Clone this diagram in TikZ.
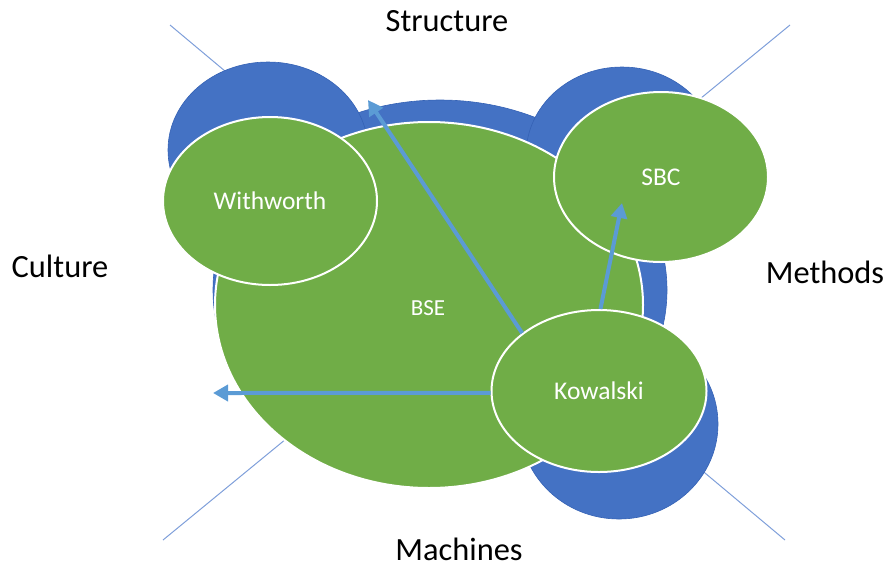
\documentclass[tikz,border=0pt]{standalone}
\usepackage{fontspec}
\setmainfont{Carlito}
\usetikzlibrary{shapes.geometric,arrows.meta}
\definecolor{backblue}{HTML}{4472C4}
\definecolor{blueedge}{HTML}{3562B5}
\definecolor{leafgreen}{HTML}{70AD47}
\definecolor{arrowblue}{HTML}{5B9BD5}
\definecolor{axisblue}{HTML}{7F9FDA}
\tikzset{
  backdisc/.style={ellipse, fill=backblue, draw=blueedge, line width=0.6pt, inner sep=0pt},
  leaf/.style={ellipse, fill=leafgreen, draw=white, line width=2pt, inner sep=0pt,
    text=white, font=\fontsize{25.5}{25.5}\selectfont},
  axisline/.style={draw=axisblue, line width=1pt},
  linkarrow/.style={draw=arrowblue, line width=4pt,
    -{Triangle[length=15pt,width=16pt]}},
  axislabel/.style={font=\fontsize{32.4}{32.4}\selectfont, text=black, inner sep=0pt, anchor=base}
}
\begin{document}
\begin{tikzpicture}[x=1pt,y=-1pt]
\useasboundingbox (0,0) rectangle (888,566);

% the two diagonal axes behind everything
\coordinate (tl) at (170,25);
\coordinate (br) at (785,540);
\coordinate (tr) at (790,25);
\coordinate (bl) at (163,540);
\draw[axisline] (tl) -- (br);
\draw[axisline] (tr) -- (bl);

% blue discs at the back
\node[backdisc, minimum width=454pt, minimum height=380pt] (bigback) at (440,290) {};
\node[backdisc, minimum width=200pt, minimum height=176pt] (wback) at (268,150) {};
\node[backdisc, minimum width=192pt, minimum height=176pt] (sback) at (622,155) {};
\node[backdisc, minimum width=198pt, minimum height=190pt] (kback) at (619,424) {};

% green ellipses in front
\node[leaf, minimum width=428pt, minimum height=366pt] (bse) at (429,305) {};
\node[text=white, font=\fontsize{23}{23}\selectfont] (bsetext) at (428,308) {BSE};
\node[leaf, minimum width=214pt, minimum height=168pt] (with) at (270,201) {Withworth};
\node[leaf, minimum width=214pt, minimum height=170pt] (sbc) at (661,177) {SBC};
\node[leaf, minimum width=215pt, minimum height=162pt] (kow) at (599,391) {Kowalski};

% arrows from Kowalski
\coordinate (tipup) at (368,100);
\coordinate (tipsbc) at (622,203);
\coordinate (tipleft) at (213,393);
\draw[linkarrow] (kow.143) -- (tipup);
\draw[linkarrow] (kow.89) -- (tipsbc);
\draw[linkarrow] (kow.181) -- (tipleft);

% the four axis labels
\node[axislabel] (structure) at (447,31) {Structure};
\node[axislabel] (culture) at (60,277) {Culture};
\node[axislabel] (methods) at (825,283) {Methods};
\node[axislabel] (machines) at (459,560) {Machines};
\end{tikzpicture}
\end{document}
